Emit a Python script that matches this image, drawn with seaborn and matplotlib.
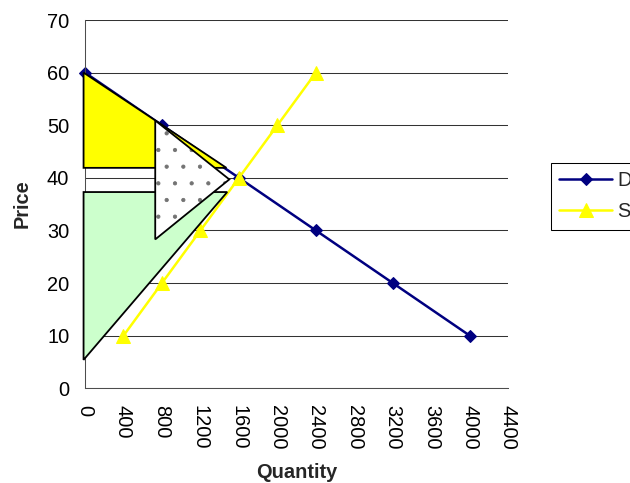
import matplotlib
matplotlib.use("Agg")
import matplotlib.pyplot as plt
from matplotlib.patches import Polygon
import seaborn as sns

# ── data ──────────────────────────────────────────────────────────────────────
demand_qty   = [0, 800, 1600, 2400, 3200, 4000]
demand_price = [60, 50, 40, 30, 20, 10]
supply_qty   = [400, 800, 1200, 1600, 2000, 2400]
supply_price = [10, 20, 30, 40, 50, 60]
x_ticks = list(range(0, 4401, 400))
y_ticks = list(range(0, 71, 10))

# shaded areas drawn over the chart, as (quantity, price) corners
consumer_surplus = [(-15, 60), (1470, 41.9), (-15, 41.9)]
deadweight_loss  = [(730, 50.9), (1500, 39.7), (730, 28.3)]
producer_surplus = [(-15, 37.3), (1478, 37.3), (-15, 5.4)]

# ── style ─────────────────────────────────────────────────────────────────────
sns.set_style("white")
plt.rcParams["font.family"] = ["Liberation Sans", "DejaVu Sans"]
plt.rcParams["hatch.linewidth"] = 0.6
FS = 14.4

fig = plt.figure(figsize=(6.3, 4.83), dpi=100)
ax = fig.add_axes([85/630, 1-388.3/483, 423.3/630, 368.3/483])

sns.lineplot(x=demand_qty, y=demand_price, ax=ax, color="#000080", marker="D",
             markersize=6.5, markeredgecolor="#000080", linewidth=1.8,
             label="Demand", clip_on=False, zorder=2)
sns.lineplot(x=supply_qty, y=supply_price, ax=ax, color="#FFFF00", marker="^",
             markersize=10, markeredgecolor="#FFFF00", linewidth=1.8,
             label="Supply", clip_on=False, zorder=2)

# overlay shapes (on top of the series, like the original autoshapes)
ax.add_patch(Polygon(consumer_surplus, closed=True, facecolor="#FFFF00",
                     edgecolor="black", lw=1.3, zorder=3, clip_on=False))
ax.add_patch(Polygon(producer_surplus, closed=True, facecolor="#CCFFCC",
                     edgecolor="black", lw=1.3, zorder=3, clip_on=False))
# dotted fill in grey, then the black outline on top
ax.add_patch(Polygon(deadweight_loss, closed=True, facecolor="white",
                     edgecolor="0.45", hatch=".", lw=0, zorder=4, clip_on=False))
ax.add_patch(Polygon(deadweight_loss, closed=True, fill=False,
                     edgecolor="black", lw=1.3, zorder=5, clip_on=False))

ax.set_xlim(0, 4400); ax.set_ylim(0, 70)
ax.set_xticks(x_ticks); ax.set_yticks(y_ticks)
ax.set_xticklabels([str(v) for v in x_ticks], rotation=-90)
ax.yaxis.grid(True, color="0.2", lw=0.75)
ax.xaxis.grid(False)
ax.set_axisbelow(True)
for s in ["top", "right"]:
    ax.spines[s].set_visible(False)
for s in ["left", "bottom"]:
    ax.spines[s].set_color("0.3"); ax.spines[s].set_linewidth(0.75)
ax.tick_params(axis="both", direction="out", length=4.3, width=0.75,
               color="0.3", labelsize=FS, labelcolor="black")
ax.tick_params(axis="y", pad=7)
ax.tick_params(axis="x", pad=8)

ax.set_xlabel("Quantity", fontsize=FS, fontweight="bold")
ax.set_ylabel("Price", fontsize=FS, fontweight="bold")
ax.xaxis.set_label_coords(0.5, -0.204)
ax.yaxis.set_label_coords(-0.127, 0.5)

# legend sits at the right edge and runs off the figure, as in the original
leg = ax.legend(loc="upper left", bbox_to_anchor=(551/630, 1-163/483),
                bbox_transform=fig.transFigure, fontsize=FS, frameon=True,
                fancybox=False, edgecolor="black", framealpha=1,
                handlelength=2.65, handletextpad=0.25, borderpad=0.42,
                labelspacing=0.6, borderaxespad=0)
leg.get_frame().set_linewidth(0.75)

fig.savefig("out.png", dpi=100)
